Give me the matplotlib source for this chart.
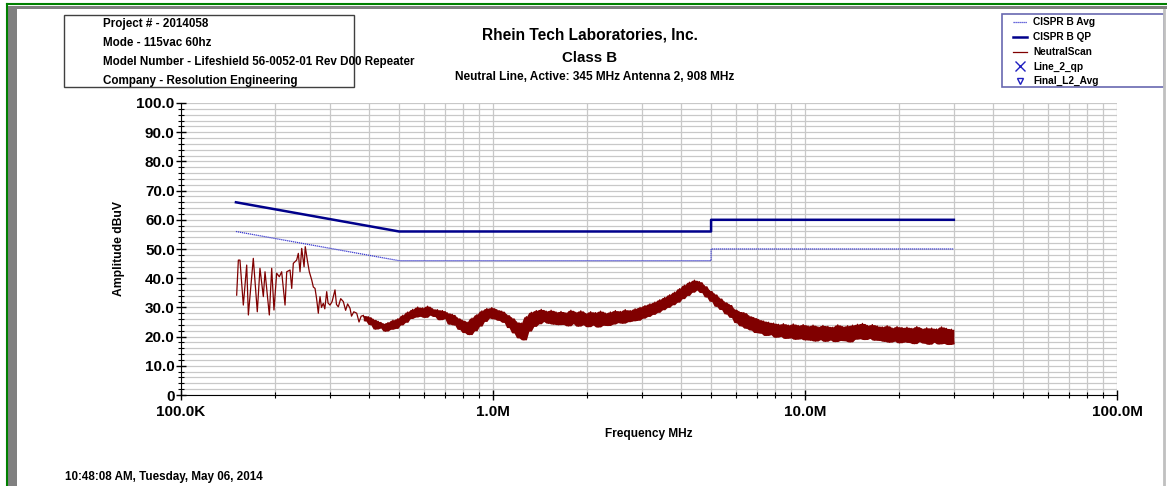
import numpy as np
import matplotlib.pyplot as plt
from matplotlib.lines import Line2D
from matplotlib.patches import Rectangle

plt.rcParams['font.family'] = ['Liberation Sans', 'DejaVu Sans']
plt.rcParams['font.weight'] = 'bold'

# limit lines (MHz, dBuV)
lim_f = [0.15, 0.5, 5.0, 5.0, 30.0]
qp_lim = [66.0, 56.0, 56.0, 60.0, 60.0]
avg_lim = [56.0, 46.0, 46.0, 50.0, 50.0]

# low-frequency part of the neutral scan
scan_f = [0.1508, 0.1527, 0.1545, 0.1584, 0.1624, 0.1644, 0.1705, 0.1756, 0.1791,
          0.1836, 0.1859, 0.1919, 0.1953, 0.1986, 0.2026, 0.2066, 0.2102, 0.2155,
          0.2182, 0.2236, 0.2264, 0.2291, 0.2348, 0.2377, 0.2407, 0.2437, 0.2480,
          0.2502, 0.2540, 0.2578, 0.2624, 0.2655, 0.2689, 0.2720, 0.2755, 0.2770,
          0.2790, 0.2820, 0.2858, 0.2890, 0.2931, 0.2960, 0.3003, 0.3050, 0.3116,
          0.3150, 0.3193, 0.3250, 0.3313, 0.3370, 0.3420, 0.3481, 0.3520, 0.3580,
          0.3658, 0.3720, 0.3780, 0.3840]
scan_v = [34.2, 46.2, 46.2, 30.8, 44.5, 27.4, 46.8, 28.5, 43.4,
          33.7, 42.2, 27.4, 43.4, 29.1, 41.7, 40.5, 42.2, 30.8,
          42.2, 42.8, 36.5, 45.1, 46.2, 48.5, 42.2, 50.2, 43.9,
          50.8, 46.2, 42.2, 39.4, 37.0, 36.5, 33.0, 28.0, 31.0,
          33.7, 30.0, 31.4, 29.5, 35.4, 31.5, 30.8, 32.0, 36.0,
          31.0, 30.2, 33.0, 32.0, 29.0, 31.2, 29.7, 27.0, 28.5,
          28.0, 25.0, 27.0, 27.2]

# dense sweep from 0.384 MHz to 30 MHz (equal log steps)
band_v = [
    27.2, 25.4, 26.8, 24.1, 25.9, 22.6, 25.2, 23.0, 24.4, 21.9, 24.8, 22.5, 25.6, 22.8, 26.1, 24.0, 27.3, 24.9, 28.4, 26.2,
    29.3, 26.7, 30.1, 27.0, 29.8, 26.6, 30.4, 27.4, 29.5, 26.9, 29.2, 25.8, 28.9, 26.2, 28.1, 24.3, 27.6, 24.0, 26.4, 22.5,
    25.6, 21.4, 24.9, 20.7, 26.3, 22.0, 27.5, 23.6, 28.8, 25.2, 29.6, 26.4, 29.9, 26.1, 29.2, 25.6, 28.7, 24.9, 27.5, 23.1,
    26.4, 21.3, 25.0, 19.6, 24.6, 18.9, 26.8, 21.9, 28.3, 23.5, 28.9, 24.4, 29.3, 25.2, 28.7, 24.6, 29.0, 24.3, 28.4, 24.1,
    28.6, 24.2, 28.1, 23.7, 29.0, 24.5, 28.3, 23.6, 28.8, 24.1, 27.9, 23.4, 28.5, 24.0, 28.2, 23.3, 28.7, 23.9, 28.0, 23.8,
    28.4, 24.3, 28.9, 24.8, 28.6, 24.6, 29.2, 25.1, 28.9, 25.4, 29.5, 25.6, 30.0, 26.3, 30.6, 26.9, 31.2, 27.6, 31.8, 28.3,
    32.6, 29.2, 33.4, 30.0, 34.3, 30.9, 35.2, 31.8, 36.4, 33.0, 37.6, 34.1, 38.6, 35.2, 39.3, 36.0, 38.8, 35.1, 37.4, 33.6,
    35.8, 32.1, 34.6, 30.4, 33.2, 29.3, 31.9, 27.8, 31.0, 26.6, 29.4, 24.8, 28.6, 23.7, 28.2, 22.9, 27.1, 22.3, 26.5, 21.4,
    25.8, 21.2, 25.3, 20.4, 24.9, 20.7, 24.6, 19.8, 24.2, 20.1, 24.4, 19.4, 23.9, 19.6, 24.3, 19.1, 23.8, 19.3, 24.1, 18.9,
    23.6, 18.8, 23.9, 18.5, 23.3, 19.0, 23.8, 18.4, 23.5, 18.9, 23.2, 18.3, 24.0, 18.7, 23.4, 18.6, 23.7, 18.2, 23.9, 19.1,
    24.2, 19.3, 24.5, 19.0, 23.8, 19.4, 24.1, 18.8, 23.6, 18.7, 23.3, 18.4, 23.7, 18.1, 22.9, 18.5, 23.4, 17.9, 23.1, 18.2,
    23.2, 18.0, 22.8, 17.6, 23.4, 18.3, 22.7, 17.8, 23.0, 17.4, 22.9, 18.1, 22.6, 17.5, 23.3, 17.7, 22.8, 17.3, 22.5, 17.6,
]
band_f = np.geomspace(0.384, 30.0, len(band_v))
bv = np.array(band_v)
pad_v = np.concatenate([[bv[0]], bv, [bv[-1]]])
band_hi = np.maximum.reduce([pad_v[:-2], pad_v[1:-1], pad_v[2:]])
band_lo = np.minimum.reduce([pad_v[:-2], pad_v[1:-1], pad_v[2:]])

W, H = 1167, 486
fig = plt.figure(figsize=(W / 100, H / 100), dpi=100)
ax = fig.add_axes([181 / W, 1 - 395 / H, (1117 - 181) / W, (395 - 103) / H])

# frame decorations
fig.add_artist(Line2D([7 / W, 1], [1 - 4.5 / H, 1 - 4.5 / H], color='#008000', lw=1.5))
fig.add_artist(Line2D([6.5 / W, 6.5 / W], [0, 1 - 4 / H], color='#008000', lw=1.5))
fig.add_artist(Rectangle((8 / W, 0), 9 / W, 1 - 8 / H, color='#808080', lw=0))
fig.add_artist(Rectangle((8 / W, 1 - 9.5 / H), 1, 3.5 / H, color='#808080', lw=0))
fig.add_artist(Line2D([1164 / W, 1164 / W], [0, 1 - 10 / H], color='#c0c0c0', lw=2))

# traces
ax.plot(lim_f, avg_lim, color='#3a3ad0', lw=0.9, ls=(0, (1, 0.6)))
ax.plot(lim_f, qp_lim, color='#00008b', lw=1.8)
ax.plot(scan_f, scan_v, color='#800000', lw=0.9)
ax.fill_between(band_f, band_lo, band_hi, color='#800000', lw=0)
ax.plot(band_f, band_v, color='#800000', lw=1.0)

ax.set_xscale('log')
ax.set_xlim(0.1, 100)
ax.set_ylim(0, 100)
ax.set_xticks([0.1, 1, 10, 100])
ax.set_xticklabels(['100.0K', '1.0M', '10.0M', '100.0M'])
ax.set_yticks(np.arange(0, 101, 10))
ax.set_yticklabels(['0'] + ['%.1f' % v for v in range(10, 101, 10)])
ax.set_yticks(np.arange(0, 101, 2), minor=True)
for t in ax.get_xticklabels() + ax.get_yticklabels():
    t.set_fontsize(11)
    t.set_fontweight('bold')
ax.tick_params(axis='both', which='major', direction='inout', length=7, width=1, pad=1)
ax.tick_params(axis='both', which='minor', direction='inout', length=5, width=0.8)
ax.tick_params(axis='x', which='major', pad=4)
ax.grid(True, which='both', axis='both', color='#c8c8c8', lw=0.9)
ax.set_axisbelow(True)
for s in ['top', 'right']:
    ax.spines[s].set_visible(False)

ax.set_ylabel('Amplitude dBuV', fontsize=8.7, fontweight='bold', labelpad=8)
ax.set_xlabel('Frequency MHz', fontsize=8.6, fontweight='bold', labelpad=6)

# titles
fig.text(590 / W, 1 - 35 / H, 'Rhein Tech Laboratories, Inc.', ha='center', va='center', fontsize=11.2)
fig.text(590 / W, 1 - 58 / H, 'Class B', ha='center', va='center', fontsize=10.8)
fig.text(595 / W, 1 - 77 / H, 'Neutral Line, Active: 345 MHz Antenna 2, 908 MHz',
         ha='center', va='center', fontsize=8.6)

# info box
fig.add_artist(Rectangle((64 / W, 1 - 87 / H), 290 / W, 72 / H, fill=False, ec='#404040', lw=1))
info = ['Project # - 2014058', 'Mode - 115vac 60hz',
        'Model Number - Lifeshield 56-0052-01 Rev D00 Repeater',
        'Company - Resolution Engineering']
for i, s in enumerate(info):
    fig.text(103 / W, 1 - (24 + 19 * i) / H, s, ha='left', va='center', fontsize=8.4)

# legend box
fig.add_artist(Rectangle((1002 / W, 1 - 87 / H), 162 / W, 73 / H, fill=False, ec='#6868b0', lw=1.2))
leg = ['CISPR B Avg', 'CISPR B QP', 'NeutralScan', 'Line_2_qp', 'Final_L2_Avg']
ys = [22, 37, 52, 66.5, 81]
for s, yy in zip(leg, ys):
    fig.text(1033 / W, 1 - yy / H, s, ha='left', va='center', fontsize=7.3)
fig.add_artist(Line2D([1013 / W, 1027 / W], [1 - 22 / H] * 2, color='#3a3ad0', lw=0.9, ls=(0, (1, 0.6))))
fig.add_artist(Line2D([1013 / W, 1027 / W], [1 - 37 / H] * 2, color='#00008b', lw=1.8))
fig.add_artist(Line2D([1013 / W, 1027 / W], [1 - 52 / H] * 2, color='#800000', lw=0.9))
fig.add_artist(Line2D([1020 / W], [1 - 66.5 / H], marker='x', color='#2020c0', ms=7, mew=1))
fig.add_artist(Line2D([1020 / W], [1 - 81 / H], marker='v', color='#2020c0', ms=5, mfc='none', mew=1))

fig.text(65 / W, 1 - 477 / H, '10:48:08 AM, Tuesday, May 06, 2014', ha='left', va='center', fontsize=8.4)

fig.savefig('out.png', dpi=100)
